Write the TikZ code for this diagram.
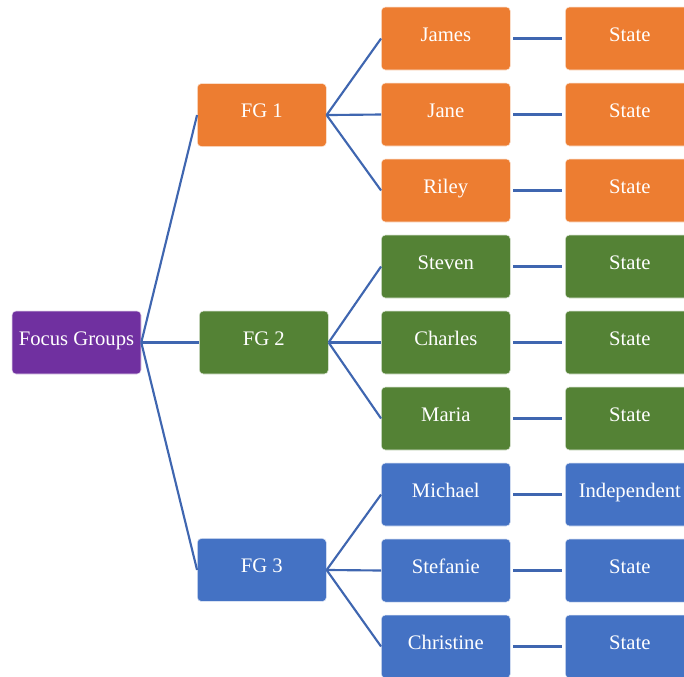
\documentclass[tikz,border=0pt]{standalone}
\usepackage{fontspec}
\setmainfont{Liberation Serif}
\usetikzlibrary{positioning}

\definecolor{fgpurple}{HTML}{7030A0}
\definecolor{fgorange}{HTML}{ED7D31}
\definecolor{fggreen}{HTML}{548235}
\definecolor{fgblue}{HTML}{4472C4}
\definecolor{linkblue}{HTML}{3F66B0}

\tikzset{
    box/.style = {rectangle, rounded corners=3pt, draw=white!80!#1, line width=0.4pt,
                  fill=#1, text=white, minimum width=96.75pt, minimum height=47.25pt,
                  inner sep=0pt, text height=0.72em, text depth=0.32em,
                  font=\fontsize{15.5}{17}\selectfont},
    link/.style = {draw=linkblue, line width=1.6pt},
    shortlink/.style = {link, shorten >=2pt, shorten <=2pt}
}

\begin{document}
\begin{tikzpicture} [x=0.75pt, y=-0.75pt, node distance = 57pt, on grid]
        \useasboundingbox (0,0) rectangle (684,676);

        \node (root) [box=fgpurple] at (76.5,342.5) {Focus Groups};
        \node (fg2) [box=fggreen, right = 140.5pt of root] {FG 2};
        \node (fg1) [box=fgorange, above = 170.6pt of fg2, xshift=-1.5pt] {FG 1};
        \node (fg3) [box=fgblue, below = 170.6pt of fg2, xshift=-1.5pt] {FG 3};

        \node (charles) [box=fggreen, right = 136.5pt of fg2] {Charles};
        \node (steven) [box=fggreen, above = of charles] {Steven};
        \node (riley) [box=fgorange, above = of steven] {Riley};
        \node (jane) [box=fgorange, above = of riley] {Jane};
        \node (james) [box=fgorange, above = of jane] {James};
        \node (maria) [box=fggreen, below = of charles] {Maria};
        \node (michael) [box=fgblue, below = of maria] {Michael};
        \node (stefanie) [box=fgblue, below = of michael] {Stefanie};
        \node (christine) [box=fgblue, below = of stefanie] {Christine};

        \node (sjames) [box=fgorange, right = 138pt of james] {State};
        \node (sjane) [box=fgorange, right = 138pt of jane] {State};
        \node (sriley) [box=fgorange, right = 138pt of riley] {State};
        \node (ssteven) [box=fggreen, right = 138pt of steven] {State};
        \node (scharles) [box=fggreen, right = 138pt of charles] {State};
        \node (smaria) [box=fggreen, right = 138pt of maria] {State};
        \node (smichael) [box=fgblue, right = 138pt of michael] {Independent};
        \node (sstefanie) [box=fgblue, right = 138pt of stefanie] {State};
        \node (schristine) [box=fgblue, right = 138pt of christine] {State};

        \path [link] (root.east) -- (fg1.west);
        \path [link] (root.east) -- (fg2.west);
        \path [link] (root.east) -- (fg3.west);

        \path [link] (fg1.east) -- (james.west);
        \path [link] (fg1.east) -- (jane.west);
        \path [link] (fg1.east) -- (riley.west);
        \path [link] (fg2.east) -- (steven.west);
        \path [link] (fg2.east) -- (charles.west);
        \path [link] (fg2.east) -- (maria.west);
        \path [link] (fg3.east) -- (michael.west);
        \path [link] (fg3.east) -- (stefanie.west);
        \path [link] (fg3.east) -- (christine.west);

        \path [shortlink] (james) -- (sjames);
        \path [shortlink] (jane) -- (sjane);
        \path [shortlink] (riley) -- (sriley);
        \path [shortlink] (steven) -- (ssteven);
        \path [shortlink] (charles) -- (scharles);
        \path [shortlink] (maria) -- (smaria);
        \path [shortlink] (michael) -- (smichael);
        \path [shortlink] (stefanie) -- (sstefanie);
        \path [shortlink] (christine) -- (schristine);
    \end{tikzpicture}
\end{document}
